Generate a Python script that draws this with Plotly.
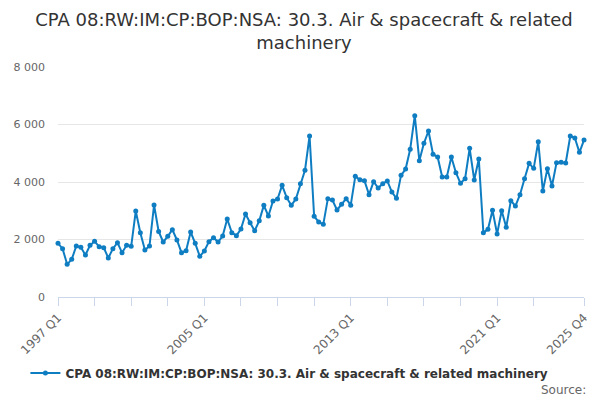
import plotly.graph_objects as go

# quarterly labels 1997 Q1 .. 2025 Q4
quarters = [f"{y} Q{q}" for y in range(1997, 2026) for q in range(1, 5)]

values = [
    1867, 1681, 1136, 1310, 1774, 1728, 1461, 1797, 1936, 1751,
    1716, 1357, 1681, 1890, 1542, 1797, 1762, 2991, 2238, 1635,
    1774, 3200, 2280, 1913, 2110, 2342, 1983, 1542, 1612, 2261,
    1867, 1415, 1600, 1925, 2064, 1913, 2122, 2713, 2238, 2133,
    2365, 2887, 2585, 2307, 2650, 3188, 2817, 3339, 3409, 3884,
    3455, 3188, 3409, 3942, 4406, 5600, 2806, 2609, 2527, 3420,
    3374, 3026, 3223, 3420, 3195, 4197, 4080, 4046, 3559, 4012,
    3791, 3942, 4035, 3652, 3432, 4232, 4452, 5136, 6307, 4742,
    5345, 5774, 4962, 4870, 4174, 4174, 4870, 4325, 3954, 4116,
    5171, 4070, 4800, 2238, 2354, 3014, 2191, 3003, 2423, 3351,
    3165, 3559, 4116, 4649, 4475, 5403, 3687, 4464, 3861, 4672,
    4684, 4661, 5600, 5530, 5032, 5461,
]

y_ticks = [0, 2000, 4000, 6000, 8000]
y_labels = ["0", "2 000", "4 000", "6 000", "8 000"]
x_labelled = ["1997 Q1", "2005 Q1", "2013 Q1", "2021 Q1", "2025 Q4"]

series_name = "CPA 08:RW:IM:CP:BOP:NSA: 30.3. Air & spacecraft & related machinery"
FONT = "DejaVu Sans"

xs = list(range(len(quarters)))
tick_idx = list(range(0, len(quarters) - 4, 8)) + [len(quarters) - 1]
tick_txt = [quarters[i] if quarters[i] in x_labelled else "" for i in tick_idx]

fig = go.Figure()
fig.add_trace(go.Scatter(
    x=xs, y=values, name=series_name, mode="lines+markers",
    line=dict(color="#0f7dc2", width=2),
    marker=dict(color="#0f7dc2", size=5),
    cliponaxis=False,
    customdata=quarters,
    hovertemplate="%{customdata}: %{y}<extra></extra>",
))

# the page body adds an 8px offset, so the figure is 8px smaller each way
fig.update_layout(
    width=592, height=392,
    margin=dict(l=50, r=16, t=59, b=103, autoexpand=False),
    paper_bgcolor="white", plot_bgcolor="white",
    font=dict(family=FONT, color="#666666", size=11),
    title=dict(
        text="CPA 08:RW:IM:CP:BOP:NSA: 30.3. Air & spacecraft & related<br>machinery",
        x=0.5, xanchor="center", y=0.955, yanchor="top",
        font=dict(family=FONT, size=18, color="#333333"),
    ),
    showlegend=True,
    legend=dict(
        orientation="h", x=-0.062, xanchor="left", y=-0.33, yanchor="middle",
        itemwidth=30,
        font=dict(family=FONT, size=12, color="#333333", weight="bold"),
    ),
    xaxis=dict(
        range=[0, len(quarters) - 1],
        tickvals=tick_idx, ticktext=tick_txt, tickangle=-45,
        ticks="outside", ticklen=8, tickcolor="#ccd6eb",
        showline=True, linecolor="#ccd6eb", linewidth=1,
        showgrid=False, zeroline=False, automargin=False,
        tickfont=dict(size=12, color="#666666"),
    ),
    yaxis=dict(
        range=[0, 8000], tickvals=y_ticks, ticktext=y_labels,
        showgrid=True, gridcolor="#e6e6e6", zeroline=False, automargin=False,
        ticks="", ticklabelstandoff=12,
        tickfont=dict(size=11, color="#666666"),
    ),
    annotations=[dict(
        text="Source:", xref="paper", yref="paper", x=1.008, y=-0.405,
        xanchor="right", yanchor="middle", showarrow=False,
        font=dict(family=FONT, size=12, color="#666666"),
    )],
)

fig.write_html("out.html")
